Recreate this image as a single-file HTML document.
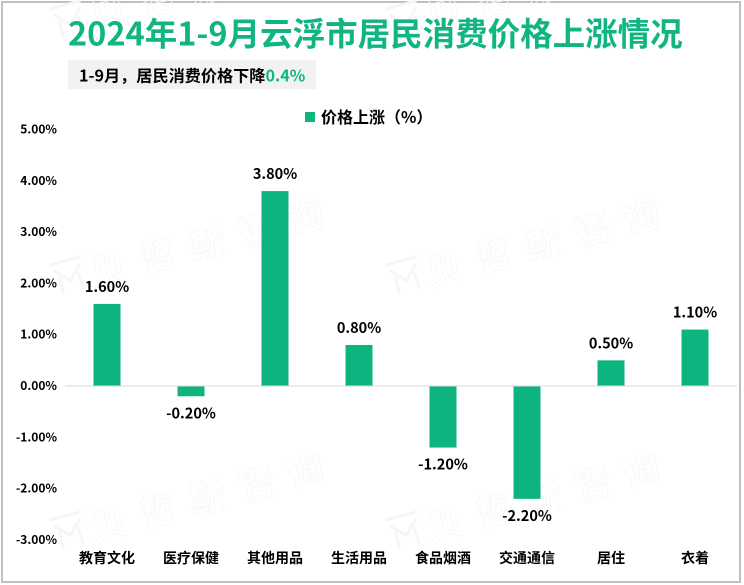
<!DOCTYPE html>
<html lang="zh">
<head>
<meta charset="utf-8">
<title>2024年1-9月云浮市居民消费价格上涨情况</title>
<style>
html,body{margin:0;padding:0;background:#fff;width:744px;height:585px;overflow:hidden}
svg{display:block;position:absolute;left:0;top:0}
text{font-family:"Noto Sans CJK SC","Liberation Sans",sans-serif}
.wm text{fill:none;stroke:#f8f8f8;stroke-width:1;font-size:36px;font-weight:700;letter-spacing:15px}
.wm path{fill:none;stroke:#f6f6f6;stroke-width:3}
</style>
</head>
<body>
<svg id="chart" width="744" height="585" viewBox="0 0 744 585">
  <rect x="2" y="2" width="738" height="580" fill="#fff" stroke="#bfbfbf" stroke-width="2"/>
  <g id="watermarks" class="wm"></g>
  <text x="68" y="45.5" font-size="32.5" font-weight="700" fill="#10b582">2024年1-9月云浮市居民消费价格上涨情况</text>
  <rect x="68" y="60" width="248" height="29" fill="#f2f2f2"/>
  <text x="79" y="81.5" font-size="16.15" font-weight="700" fill="#000">1-9月，居民消费价格下降<tspan fill="#10b582">0.4%</tspan></text>
  <rect x="305" y="112" width="10" height="10" fill="#0eb480"/>
  <text x="321" y="123" font-size="16" font-weight="700" fill="#000">价格上涨（%）</text>
  <g id="y-axis"></g>
  <g id="bars"></g>
  <line id="zero-line" stroke="#d9d9d9" stroke-width="1"/>
  <g id="labels"></g>
  <g id="x-axis"></g>
</svg>
<script>
const categories = ["教育文化","医疗保健","其他用品","生活用品","食品烟酒","交通通信","居住","衣着"];
const priceRise = [1.6,-0.2,3.8,0.8,-1.2,-2.2,0.5,1.1];
const yTicks = [5,4,3,2,1,0,-1,-2,-3];

const NS = "http://www.w3.org/2000/svg";
const plotLeft = 65, plotRight = 737, zeroY = 386, unit = 51.3, barWidth = 27;
function yScale(v){ return zeroY - v * unit; }
function xScale(i){ return plotLeft + (plotRight - plotLeft) * (i + 0.5) / categories.length; }
function fmt(v){ return v.toFixed(2) + "%"; }
function make(tag, attrs, text){
  const el = document.createElementNS(NS, tag);
  for (const k in attrs) el.setAttribute(k, attrs[k]);
  if (text !== undefined) el.textContent = text;
  return el;
}

const zero = document.getElementById("zero-line");
zero.setAttribute("x1", plotLeft);
zero.setAttribute("x2", plotRight);
zero.setAttribute("y1", yScale(0));
zero.setAttribute("y2", yScale(0));

const yAxis = document.getElementById("y-axis");
yTicks.forEach(function(t){
  const el = make("text", {x: 57, y: yScale(t) + 4, "text-anchor": "end", "font-size": 12, "font-weight": 700, fill: "#000"}, fmt(t));
  
  
  yAxis.appendChild(el);
});

const barsG = document.getElementById("bars");
const labelsG = document.getElementById("labels");
const xAxis = document.getElementById("x-axis");
categories.forEach(function(c, i){
  const v = priceRise[i];
  const cx = xScale(i);
  const top = Math.min(yScale(v), yScale(0));
  const h = Math.abs(yScale(v) - yScale(0));
  const bar = make("rect", {x: cx - barWidth / 2, y: top, width: barWidth, height: h, fill: "#0eb480"});
  
  
  barsG.appendChild(bar);

  const ly = v >= 0 ? yScale(v) - 12 : yScale(v) + 22;
  const lab = make("text", {x: cx, y: ly, "text-anchor": "middle", "font-size": 14.5, "font-weight": 700, fill: "#000"}, fmt(v));
  
  
  labelsG.appendChild(lab);

  const cat = make("text", {x: cx, y: 563, "text-anchor": "middle", "font-size": 14, "font-weight": 700, fill: "#000"}, c);
  
  
  xAxis.appendChild(cat);
});

const wmG = document.getElementById("watermarks");
[[58,40],[394,40],[58,296],[394,296],[58,551],[394,551]].forEach(function(p){
  const g = make("g", {transform: "translate(" + p[0] + " " + p[1] + ") rotate(-15)"});
  
  
  const logo = make("path", {d: "M0 -32H32M2 -26L16 -12L30 -26M6 -18V0M26 -18V0"});
  
  
  g.appendChild(logo);
  const w = make("text", {x: 38, y: 0}, "贝哲斯咨询");
  
  
  g.appendChild(w);
  wmG.appendChild(g);
});
</script>
</body>
</html>
